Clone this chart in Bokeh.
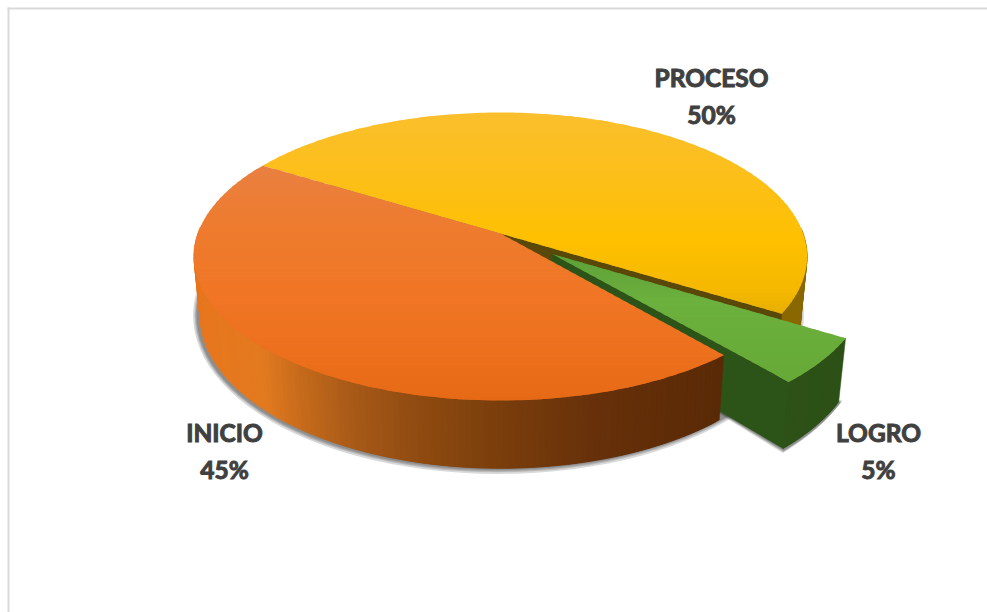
import math
from bokeh.plotting import figure
from bokeh.embed import file_html
from bokeh.resources import INLINE
from bokeh.core.properties import value

# ---- data ----
categories = ["INICIO", "PROCESO", "LOGRO"]
shares = [45, 50, 5]
exploded = [0.0, 0.0, 0.22]

# ---- style / projection ----
START_DEG = 139.6
CX, CY = 500.0, 233.0
A_X, A_Y, K = 302.6, 103.1, -0.1597
DEPTH, CONV = 57.0, 0.02
TOP_STOPS = {
    "INICIO": [(160, "#E98042"), (230, "#EE7B2E"), (300, "#F07524"), (360, "#EC6F1C"), (402, "#E66A16")],
    "PROCESO": [(110, "#FBBF2E"), (180, "#FCBF18"), (240, "#FFC000"), (290, "#F5B800"), (320, "#E2AC00")],
    "LOGRO": [(250, "#5C9E36"), (300, "#6CB03E"), (385, "#66A936")],
}
SIDE_STOPS = {
    "INICIO": [(190, "#E8761E"), (260, "#E37A1F"), (300, "#C56A1B"), (350, "#A85A18"), (420, "#8E4A10"),
               (500, "#7A3E0C"), (600, "#66300A"), (720, "#5A2A06")],
    "PROCESO": [(700, "#8A6800"), (810, "#8A6800")],
    "LOGRO": [(700, "#2E5318"), (850, "#2C5016")],
}
WALL = {"PROCESO": "#5A4808", "LOGRO": "#2D5418"}
LABEL_X = [224, 711, 878]
LABEL_Y = [432, 77, 432]
LINE_GAP = 37


def hex2rgb(h):
    return tuple(int(h[i:i + 2], 16) for i in (1, 3, 5))


def grad(stops, t):
    if t <= stops[0][0]:
        return stops[0][1]
    for (a, ca), (b, cb) in zip(stops, stops[1:]):
        if t <= b:
            f = (t - a) / (b - a)
            ra, rb = hex2rgb(ca), hex2rgb(cb)
            return "#%02X%02X%02X" % tuple(round(u + (v - u) * f) for u, v in zip(ra, rb))
    return stops[-1][1]


def proj(X, Y):
    w = 1 + K * Y
    return CX + A_X * X / w, (CY + A_Y * Y) / w


def lower(X, Y):
    x, y = proj(X, Y)
    w = 1 + K * Y
    return CX + (x - CX) * (1 - CONV), y + DEPTH / w


def disc(deg, off=(0, 0)):
    r = math.radians(deg)
    return off[0] + math.sin(r), off[1] - math.cos(r)


def clip_band(poly, y0, y1):
    def clip(pts, inside, yc):
        out = []
        for i, p in enumerate(pts):
            q = pts[(i + 1) % len(pts)]
            ip, iq = inside(p), inside(q)
            if ip:
                out.append(p)
            if ip != iq:
                f = (yc - p[1]) / (q[1] - p[1])
                out.append((p[0] + (q[0] - p[0]) * f, yc))
        return out
    pts = clip(poly, lambda p: p[1] >= y0, y0)
    if pts:
        pts = clip(pts, lambda p: p[1] <= y1, y1)
    return pts


p = figure(width=987, height=612, x_range=(0, 987), y_range=(612, 0), output_backend="svg",
           toolbar_location=None, min_border=0, outline_line_color=None, background_fill_color="white")
p.axis.visible = False
p.grid.visible = False


def add(polys, colors, alpha=1.0, line=True):
    p.patches([[q[0] for q in g] for g in polys], [[q[1] for q in g] for g in polys],
              fill_color=colors, fill_alpha=alpha,
              line_color=colors if line else None, line_width=0.5, line_alpha=alpha)


# frame
p.line([7, 987], [8, 8], line_color="#D9D9D9", line_width=2)
p.line([8, 8], [7, 612], line_color="#D9D9D9", line_width=2)

# slices
total = sum(shares)
slices = {}
a = START_DEG
for name, s, e in zip(categories, shares, exploded):
    span = 360 * s / total
    mid = math.radians(a + span / 2)
    off = (e * math.sin(mid), -e * math.cos(mid))
    slices[name] = (a, a + span, off)
    a += span


def arc(name, step=1.0):
    a0, a1, off = slices[name]
    n = max(2, int((a1 - a0) / step))
    return [disc(a0 + (a1 - a0) * i / n, off) for i in range(n + 1)]


def top_poly(name):
    off = slices[name][2]
    return [proj(*off)] + [proj(*q) for q in arc(name)]


# shadow
fullb = [lower(math.sin(math.radians(d)), -math.cos(math.radians(d))) for d in range(0, 360, 3)]
greb = [lower(*q) for q in arc("LOGRO")] + [lower(*slices["LOGRO"][2])]
mx = sum(q[0] for q in fullb) / len(fullb)
my = sum(q[1] for q in fullb) / len(fullb)
gx = sum(q[0] for q in greb) / len(greb)
gy = sum(q[1] for q in greb) / len(greb)
for r in (5, 3.5, 2.5, 1.5):
    add([[(x + r * (x - mx) / 300 - 2, y + r * (y - my) / 145) for x, y in fullb]], ["#404040"], 0.2, False)
    add([[(x + r * (x - gx) / 70 + 1, y + r * (y - gy) / 40 + 1) for x, y in greb]], ["#404040"], 0.2, False)


def side(name):
    pts = [q for q in arc(name) if q[1] >= -0.05]
    polys, cols = [], []
    for i in range(len(pts) - 1):
        u, v = pts[i], pts[min(i + 2, len(pts) - 1)]
        tu, tv = proj(*u), proj(*v)
        bu, bv = lower(*u), lower(*v)
        polys.append([tu, tv, bv, bu])
        cols.append(grad(SIDE_STOPS[name], (tu[0] + proj(*pts[i + 1])[0]) / 2))
    add(polys, cols)


def wall(name, deg):
    off = slices[name][2]
    o = disc(deg, off)
    add([[proj(*off), proj(*o), lower(*o), lower(*off)]], [WALL[name]])


def top(name):
    poly = top_poly(name)
    ys = [q[1] for q in poly]
    y = math.floor(min(ys))
    polys, cols = [], []
    while y < max(ys):
        band = clip_band(poly, y, y + 6)
        if len(band) >= 3:
            polys.append(band)
            cols.append(grad(TOP_STOPS[name], y + 2))
        y += 4
    add(polys, cols, line=False)


# painter's order: back to front
side("PROCESO")
wall("PROCESO", slices["PROCESO"][1])
top("PROCESO")
wall("LOGRO", slices["LOGRO"][1])
side("LOGRO")
top("LOGRO")
side("INICIO")
top("INICIO")

# labels
texts, tx, ty = [], [], []
for name, s, x, y in zip(categories, shares, LABEL_X, LABEL_Y):
    texts += [name, f"{s}%"]
    tx += [x, x]
    ty += [y, y + LINE_GAP]
p.text(tx, ty, text=texts, text_font=value("Lato"), text_font_style="bold", text_font_size="24.5px",
       text_color="#404040", text_outline_color="#404040", text_align="center", text_baseline="middle")

open("out.html", "w").write(file_html(p, INLINE))
